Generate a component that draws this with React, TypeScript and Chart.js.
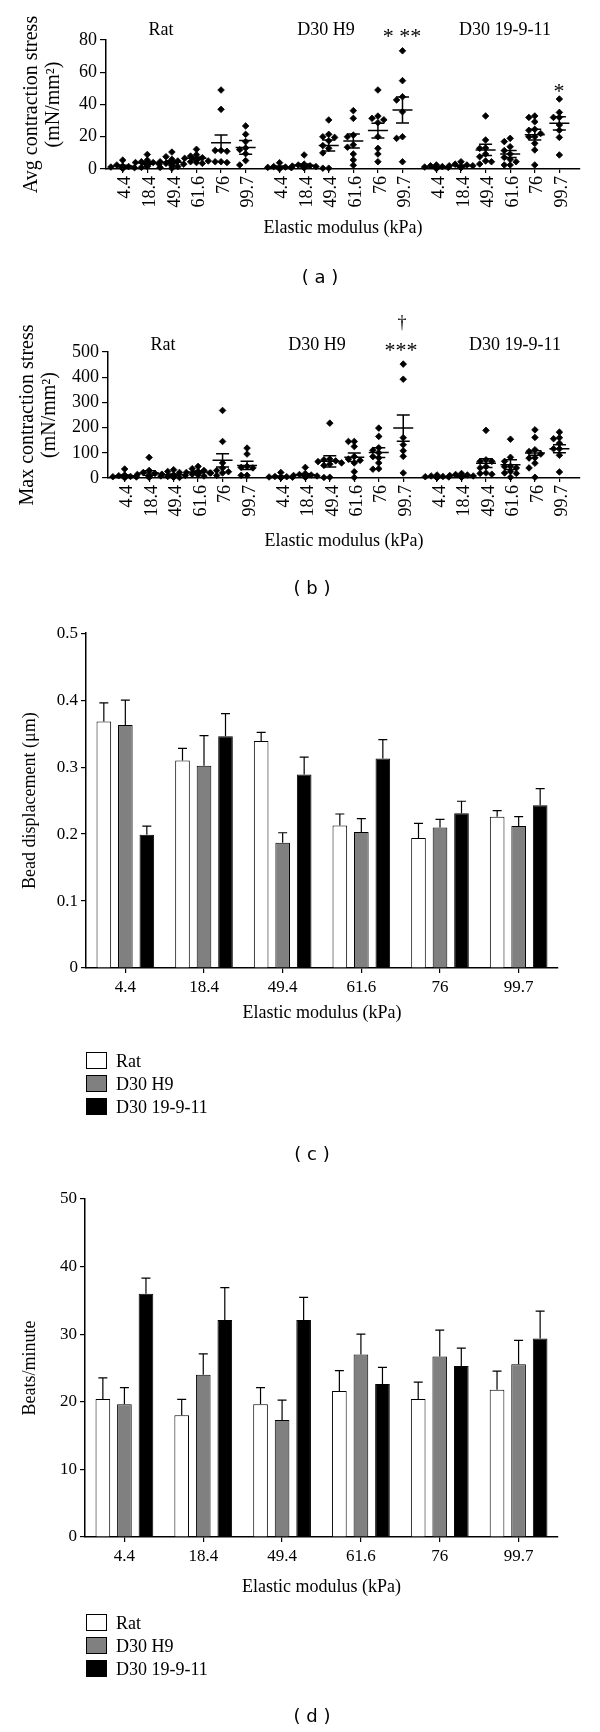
import React, { useEffect, useRef } from 'react';
import { Chart, registerables } from 'chart.js';

Chart.register(...registerables);
Chart.defaults.color = '#000';

const SERIF = '"Liberation Serif", "Times New Roman", serif';
const SANS = '"DejaVu Sans", Verdana, sans-serif';

// ---------- shared categories ----------
const modulusLabels = ['4.4', '18.4', '49.4', '61.6', '76', '99.7'];
const groupNames = ['Rat', 'D30 H9', 'D30 19-9-11'];
const seriesColors = ['#ffffff', '#808080', '#000000'];
const xTitle = 'Elastic modulus (kPa)';

// ---------- (a) average contraction stress (mN/mm²), individual points ----------
const avgRat = [
  [5.5, 2.5, 1.8, 1.2, 0.8, 0.5, 0.3, 1.5, 0.8],
  [9, 5.5, 4.5, 4, 3, 2.5, 2, 1.5, 1, 4],
  [10.5, 7.6, 6, 5, 4.5, 3.5, 3, 2, 1.5, 1, 0.5, 2.5],
  [12.2, 8.9, 8, 7, 6.6, 5.5, 5, 4.5, 4, 3.5],
  [49, 37, 11.5, 11, 11.5, 4.5, 4, 4.5],
  [26.7, 21.5, 17, 13, 12, 9.5, 5.2, 2.5],
];
const avgH9 = [
  [3.9, 1.5, 1, 0.8, 0.5, 0.3, 0.2, 1.2],
  [8.7, 3, 2.5, 2, 1.8, 1.5, 1.2, 1, 0.8, 1.5],
  [30.4, 21.5, 20, 19.6, 17.5, 14.5, 12.8, 10, 0.5, 0.5],
  [36.2, 31.4, 21, 20, 15, 13.5, 9.3, 5.6, 2.3],
  [49, 32.8, 31.4, 30.5, 28.7, 20, 12.8, 9.3, 4.5],
  [73.3, 54.8, 44.8, 42.8, 35.5, 20, 19, 4.5],
];
const avg19911 = [
  [2.5, 2, 1.5, 1, 0.8, 0.5, 1.2, 0.6, 0.3],
  [4.5, 3, 2.5, 2, 1.5, 1, 0.8, 1.2, 2],
  [32.9, 18, 13, 12.8, 9.3, 7.6, 5, 4.5, 3.1],
  [19, 17, 13.8, 11.4, 9.3, 7.2, 4.5, 2.5, 2.5, 6],
  [32.9, 32, 29.3, 24.6, 24, 22, 20, 20, 15.9, 11.8, 2.5],
  [43.4, 35.1, 32, 32, 27.3, 24, 19.6, 8.7],
];
const avgMeanRat = [1.8, 3.7, 4.2, 6.6, 16.3, 13.4];
const avgSemRat = [0.6, 0.8, 0.9, 0.9, 4.8, 4.2];
const avgMeanH9 = [1.3, 2.3, 14.6, 17.4, 23.8, 36.6];
const avgSemH9 = [0.5, 0.8, 3.4, 4.3, 4.6, 8.0];
const avgMean19911 = [1.2, 2.0, 11.8, 9.3, 21.3, 28.3];
const avgSem19911 = [0.3, 0.4, 3.5, 2.1, 3.3, 4.1];

// ---------- (b) maximum contraction stress (mN/mm²), individual points ----------
const maxRat = [
  [35.6, 12, 9, 6, 5, 4, 3, 2, 1.5],
  [81.8, 30, 22, 18, 14, 10, 8, 6, 4, 3],
  [33, 26, 22, 15, 12, 10, 8, 6, 4, 3, 2],
  [46, 37, 30, 26, 22, 20, 18, 15, 12, 8],
  [268, 145, 60, 40, 30, 25, 20, 20, 10],
  [118.7, 95, 46, 42, 40, 10.6, 10.6],
];
const maxH9 = [
  [22, 6, 4, 3, 2, 2, 1, 5],
  [42, 18, 14, 12, 10, 8, 6, 4, 3],
  [217.7, 75, 72, 68, 65, 60, 55, 50, 3, 2],
  [145, 145, 125, 85, 75, 70, 60, 25, 2],
  [198, 165, 120, 110, 100, 85, 80, 60, 37, 35],
  [452, 392, 160, 132, 108, 86, 20],
];
const max19911 = [
  [12, 8, 6, 5, 4, 3, 2, 2, 1],
  [18, 14, 12, 10, 8, 6, 5, 4, 3],
  [189, 72, 66, 66, 45, 40, 20, 18, 15],
  [154, 82, 66, 46, 45, 40, 26, 20, 18, 3],
  [191, 161, 112, 105, 95, 80, 79, 59, 40, 3],
  [182, 160, 156, 138, 116, 116, 90, 24],
];
const maxMeanRat = [8.7, 19.7, 12.8, 23.4, 70, 50];
const maxSemRat = [3.5, 9, 3, 4, 26, 16];
const maxMeanH9 = [5.6, 13, 66, 82, 101, 198];
const maxSemH9 = [2.5, 4, 22, 17, 19.5, 52];
const maxMean19911 = [4.8, 8.9, 59, 53, 99, 116];
const maxSem19911 = [1.2, 1.7, 17, 19, 9, 16];

// ---------- (c) bead displacement (µm) ----------
const beadRat = [0.368, 0.31, 0.339, 0.213, 0.194, 0.226];
const beadH9 = [0.363, 0.302, 0.187, 0.203, 0.21, 0.212];
const bead19911 = [0.199, 0.346, 0.289, 0.313, 0.231, 0.243];
const beadErrRat = [0.028, 0.018, 0.013, 0.017, 0.022, 0.009];
const beadErrH9 = [0.037, 0.045, 0.015, 0.02, 0.012, 0.014];
const beadErr19911 = [0.013, 0.034, 0.026, 0.028, 0.018, 0.025];

// ---------- (d) beats per minute ----------
const beatsRat = [20.4, 18.0, 19.65, 21.6, 20.4, 21.8];
const beatsH9 = [19.65, 24.0, 17.3, 27.0, 26.7, 25.55];
const beats19911 = [36.0, 32.1, 32.1, 22.65, 25.3, 29.35];
const beatsErrRat = [3.15, 2.35, 2.45, 3.0, 2.5, 2.75];
const beatsErrH9 = [2.45, 3.1, 2.95, 3.0, 3.9, 3.55];
const beatsErr19911 = [2.3, 4.8, 3.35, 2.45, 2.65, 4.05];

// ---------- layout constants (style, not data) ----------
const groupStarts = [0, 6.38, 12.76];
const X_MIN = -0.68;
const X_MAX = 18.6;
const JITTER = 0.24;

function swarm(values: number[], center: number, thr: number) {
  const placed: { x: number; y: number }[] = [];
  const sorted = [...values].sort((a, b) => b - a);
  const cands = [0, -1, 1, -2, 2];
  for (const v of sorted) {
    let k = 0;
    for (const c of cands) {
      const cx = center + c * JITTER;
      if (!placed.some((p) => Math.abs(p.y - v) < thr && Math.abs(p.x - cx) < JITTER * 0.5)) {
        k = c;
        break;
      }
    }
    placed.push({ x: center + k * JITTER, y: v });
  }
  return placed;
}

function textPlugin(items: any[]) {
  return {
    id: 'texts',
    afterDraw(chart: any) {
      const ctx = chart.ctx;
      ctx.save();
      ctx.fillStyle = '#000';
      ctx.textAlign = 'center';
      ctx.textBaseline = 'middle';
      items.forEach((t) => {
        ctx.font = t.font || `18px ${SERIF}`;
        ctx.fillText(t.text, t.x, t.y);
      });
      ctx.restore();
    },
  };
}

function meanSemPlugin(means: number[][], sems: number[][]) {
  return {
    id: 'meanSem',
    afterDatasetsDraw(chart: any) {
      const { ctx } = chart;
      const x = chart.scales.x;
      const y = chart.scales.y;
      ctx.save();
      ctx.strokeStyle = '#000';
      ctx.lineWidth = 1.5;
      means.forEach((row, gi) =>
        row.forEach((m, i) => {
          const px = x.getPixelForValue(groupStarts[gi] + i);
          const pm = y.getPixelForValue(m);
          const pu = y.getPixelForValue(m + sems[gi][i]);
          const pl = y.getPixelForValue(Math.max(0, m - sems[gi][i]));
          ctx.beginPath();
          ctx.moveTo(px - 10, pm);
          ctx.lineTo(px + 10, pm);
          ctx.moveTo(px, pu);
          ctx.lineTo(px, pl);
          ctx.moveTo(px - 6.5, pu);
          ctx.lineTo(px + 6.5, pu);
          ctx.moveTo(px - 6.5, pl);
          ctx.lineTo(px + 6.5, pl);
          ctx.stroke();
        })
      );
      ctx.restore();
    },
  };
}

function errorBarPlugin(errs: number[][]) {
  return {
    id: 'errBars',
    afterDatasetsDraw(chart: any) {
      const ctx = chart.ctx;
      const y = chart.scales.y;
      ctx.save();
      ctx.strokeStyle = '#000';
      ctx.lineWidth = 1.2;
      chart.data.datasets.forEach((ds: any, di: number) => {
        const meta = chart.getDatasetMeta(di);
        meta.data.forEach((el: any, j: number) => {
          const top = y.getPixelForValue(ds.data[j] + errs[di][j]);
          ctx.beginPath();
          ctx.moveTo(el.x, el.y);
          ctx.lineTo(el.x, top);
          ctx.moveTo(el.x - 4.5, top);
          ctx.lineTo(el.x + 4.5, top);
          ctx.stroke();
        });
      });
      ctx.restore();
    },
  };
}

function makeScatter(p: any) {
  const tickPos: number[] = [];
  const tickLab: string[] = [];
  groupStarts.forEach((g) =>
    modulusLabels.forEach((l, i) => {
      tickPos.push(g + i);
      tickLab.push(l);
    })
  );
  const datasets = p.points.map((g: number[][], gi: number) => ({
    label: groupNames[gi],
    data: g.flatMap((vals, i) => swarm(vals, groupStarts[gi] + i, p.thr)),
    pointStyle: 'rectRot',
    pointRadius: 3.3,
    pointBorderWidth: 0.8,
    pointBackgroundColor: '#000',
    pointBorderColor: '#000',
    backgroundColor: '#000',
    borderColor: '#000',
    showLine: false,
    clip: false,
  }));
  return {
    type: 'scatter',
    data: { datasets },
    options: {
      responsive: false,
      maintainAspectRatio: false,
      animation: false,
      layout: { padding: p.padding },
      plugins: { legend: { display: false }, tooltip: { enabled: false } },
      scales: {
        x: {
          type: 'linear',
          min: X_MIN,
          max: X_MAX,
          afterBuildTicks: (s: any) => {
            s.ticks = tickPos.map((v) => ({ value: v }));
          },
          afterFit: (s: any) => {
            s.height = p.xH;
          },
          ticks: {
            autoSkip: false,
            minRotation: 90,
            maxRotation: 90,
            padding: 3,
            labelOffset: 3,
            font: { family: SERIF, size: 18 },
            callback: (_v: any, i: number) => tickLab[i],
          },
          grid: { display: true, drawOnChartArea: false, drawTicks: true, tickLength: 4, color: '#000', lineWidth: 1.2 },
          border: { display: true, color: '#000', width: 1.5 },
          title: { display: true, text: xTitle, padding: 0, font: { family: SERIF, size: 18, lineHeight: 1.2 } },
        },
        y: {
          min: 0,
          max: p.yMax,
          afterFit: (s: any) => {
            s.width = p.yW;
          },
          ticks: { stepSize: p.yStep, padding: 3, font: { family: SERIF, size: 18 } },
          grid: { display: true, drawOnChartArea: false, drawTicks: true, tickLength: 6, color: '#000', lineWidth: 1.2 },
          border: { display: true, color: '#000', width: 1.5 },
          title: { display: true, text: p.yTitle, padding: 0, font: { family: SERIF, size: 20, lineHeight: 1.1 } },
        },
      },
    },
    plugins: [meanSemPlugin(p.means, p.sems), textPlugin(p.texts)],
  };
}

function makeBars(p: any) {
  return {
    type: 'bar',
    data: {
      labels: modulusLabels,
      datasets: p.values.map((vals: number[], i: number) => ({
        label: groupNames[i],
        data: vals,
        backgroundColor: seriesColors[i],
        borderColor: '#000',
        borderWidth: 1,
        categoryPercentage: 0.82,
        barPercentage: 0.68,
      })),
    },
    options: {
      responsive: false,
      maintainAspectRatio: false,
      animation: false,
      layout: { padding: p.padding },
      plugins: { legend: { display: false }, tooltip: { enabled: false } },
      scales: {
        x: {
          afterFit: (s: any) => {
            s.height = p.xH;
          },
          ticks: { padding: 4, font: { family: SERIF, size: 17 } },
          grid: { display: true, offset: false, drawOnChartArea: false, drawTicks: true, tickLength: 5, color: '#000', lineWidth: 1.2 },
          border: { display: true, color: '#000', width: 1.5 },
          title: { display: true, text: xTitle, padding: 0, font: { family: SERIF, size: 18, lineHeight: 1.2 } },
        },
        y: {
          min: 0,
          max: p.yMax,
          afterFit: (s: any) => {
            s.width = p.yW;
          },
          ticks: { stepSize: p.yStep, padding: 3, font: { family: SERIF, size: 17 } },
          grid: { display: true, drawOnChartArea: false, drawTicks: true, tickLength: 5, color: '#000', lineWidth: 1.2 },
          border: { display: true, color: '#000', width: 1.5 },
          title: { display: true, text: p.yTitle, padding: 0, font: { family: SERIF, size: 18, lineHeight: 1.2 } },
        },
      },
    },
    plugins: [errorBarPlugin(p.errs)],
  };
}

const AST = `22px ${SERIF}`;

const configA = () =>
  makeScatter({
    points: [avgRat, avgH9, avg19911],
    means: [avgMeanRat, avgMeanH9, avgMean19911],
    sems: [avgSemRat, avgSemH9, avgSem19911],
    yMax: 80,
    yStep: 20,
    yTitle: ['Avg contraction stress', '(mN/mm²)'],
    thr: 3.1,
    padding: { top: 40, bottom: 61, left: 21, right: 20 },
    xH: 70,
    yW: 85,
    texts: [
      { text: 'Rat', x: 161, y: 30 },
      { text: 'D30 H9', x: 326, y: 30 },
      { text: '* **', x: 402, y: 37, font: AST },
      { text: 'D30 19-9-11', x: 505, y: 30 },
      { text: '*', x: 559, y: 92, font: AST },
    ],
  });

const configB = () =>
  makeScatter({
    points: [maxRat, maxH9, max19911],
    means: [maxMeanRat, maxMeanH9, maxMean19911],
    sems: [maxSemRat, maxSemH9, maxSem19911],
    yMax: 500,
    yStep: 100,
    yTitle: ['Max contraction stress', '(mN/mm²)'],
    thr: 20,
    padding: { top: 52, bottom: 68, left: 17, right: 20 },
    xH: 74,
    yW: 91,
    texts: [
      { text: 'Rat', x: 163, y: 45 },
      { text: 'D30 H9', x: 317, y: 45 },
      { text: '†', x: 402, y: 23 },
      { text: '***', x: 401, y: 51, font: AST },
      { text: 'D30 19-9-11', x: 515, y: 45 },
    ],
  });

const configC = () =>
  makeBars({
    values: [beadRat, beadH9, bead19911],
    errs: [beadErrRat, beadErrH9, beadErr19911],
    yMax: 0.5,
    yStep: 0.1,
    yTitle: 'Bead displacement (μm)',
    padding: { top: 13, bottom: 156, left: 19, right: 42 },
    xH: 56,
    yW: 67,
  });

const configD = () =>
  makeBars({
    values: [beatsRat, beatsH9, beats19911],
    errs: [beatsErrRat, beatsErrH9, beatsErr19911],
    yMax: 50,
    yStep: 10,
    yTitle: 'Beats/minute',
    padding: { top: 19, bottom: 134, left: 19, right: 42 },
    xH: 61,
    yW: 66,
  });

function ChartCanvas({ top, height, config }: { top: number; height: number; config: () => any }) {
  const ref = useRef<HTMLCanvasElement>(null);
  useEffect(() => {
    const chart = new Chart(ref.current as HTMLCanvasElement, config());
    return () => chart.destroy();
  }, [config]);
  return (
    <canvas
      ref={ref}
      width={600}
      height={height}
      style={{ position: 'absolute', left: 0, top, width: 600, height }}
    />
  );
}

function Legend({ top }: { top: number }) {
  return (
    <div style={{ position: 'absolute', left: 86, top }}>
      {groupNames.map((name, i) => (
        <div key={name} style={{ display: 'flex', alignItems: 'center', height: 23 }}>
          <div
            style={{
              width: 19,
              height: 15,
              background: seriesColors[i],
              border: '1px solid #000',
              marginRight: 9,
            }}
          />
          <span style={{ fontFamily: SERIF, fontSize: 18, lineHeight: '18px' }}>{name}</span>
        </div>
      ))}
    </div>
  );
}

function Caption({ text, x, y }: { text: string; x: number; y: number }) {
  return (
    <div
      style={{
        position: 'absolute',
        left: x,
        top: y,
        transform: 'translate(-50%, -50%)',
        fontFamily: SANS,
        fontSize: 18,
        whiteSpace: 'pre',
      }}
    >
      {text}
    </div>
  );
}

export default function App() {
  return (
    <div style={{ position: 'absolute', left: 0, top: 0, width: 600, height: 1732, background: '#fff', color: '#000' }}>
      <ChartCanvas top={0} height={300} config={configA} />
      <ChartCanvas top={300} height={320} config={configB} />
      <ChartCanvas top={620} height={560} config={configC} />
      <ChartCanvas top={1180} height={552} config={configD} />
      <Caption text="( a )" x={320} y={276} />
      <Caption text="( b )" x={312} y={587} />
      <Legend top={1049} />
      <Caption text="( c )" x={312} y={1153} />
      <Legend top={1611} />
      <Caption text="( d )" x={312} y={1715} />
    </div>
  );
}
